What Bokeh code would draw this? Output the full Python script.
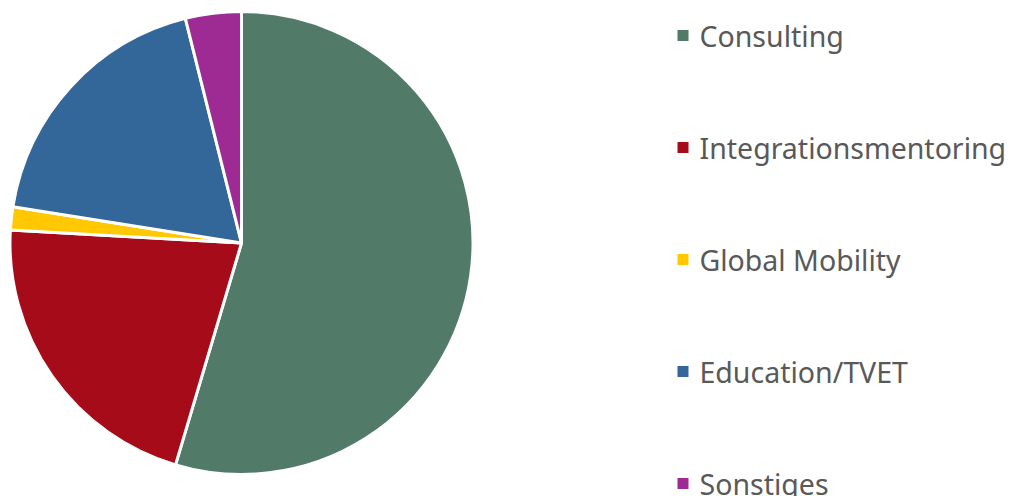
import math
from bokeh.plotting import figure
from bokeh.models import Range1d, ColumnDataSource
from bokeh.core.properties import value
from bokeh.embed import file_html
from bokeh.resources import INLINE

categories = ["Consulting", "Integrationsmentoring", "Global Mobility", "Education/TVET", "Sonstiges"]
shares = [54.6, 21.3, 1.6, 18.6, 3.9]
colors = ["#527A68", "#A50B18", "#FFC800", "#336699", "#9E2A94"]

W, H = 1011, 496
cx, cy, r = 241, H - 242.5, 231.5

total = sum(shares)
starts, ends = [], []
cum = 0.0
for s in shares:
    starts.append(math.pi / 2 - 2 * math.pi * cum / total)
    cum += s
    ends.append(math.pi / 2 - 2 * math.pi * cum / total)

src = ColumnDataSource(dict(cat=categories, share=shares, color=colors,
                            start=starts, end=ends,
                            x=[cx] * len(shares), y=[cy] * len(shares)))

p = figure(width=W, height=H, x_range=Range1d(0, W), y_range=Range1d(0, H),
           output_backend="svg", toolbar_location=None, min_border=0)
p.axis.visible = False
p.grid.visible = False
p.outline_line_color = None
p.background_fill_color = "white"

p.wedge(x="x", y="y", radius=r, start_angle="start", end_angle="end",
        direction="clock", fill_color="color", line_color="white", line_width=3,
        source=src)

# legend
ly = [H - (35 + 112 * i) for i in range(len(categories))]
lsrc = ColumnDataSource(dict(cat=categories, color=colors, y=ly,
                             xs=[682.5] * len(categories), xt=[699] * len(categories)))
p.scatter(x="xs", y="y", marker="square", size=11, fill_color="color",
          line_color=None, source=lsrc)
p.text(x="xt", y="y", text="cat", text_baseline="middle", text_align="left",
       text_font=value("Noto Sans"), text_font_size="28.5px", text_color="#595959",
       source=lsrc)

open("out.html", "w").write(file_html(p, INLINE))
